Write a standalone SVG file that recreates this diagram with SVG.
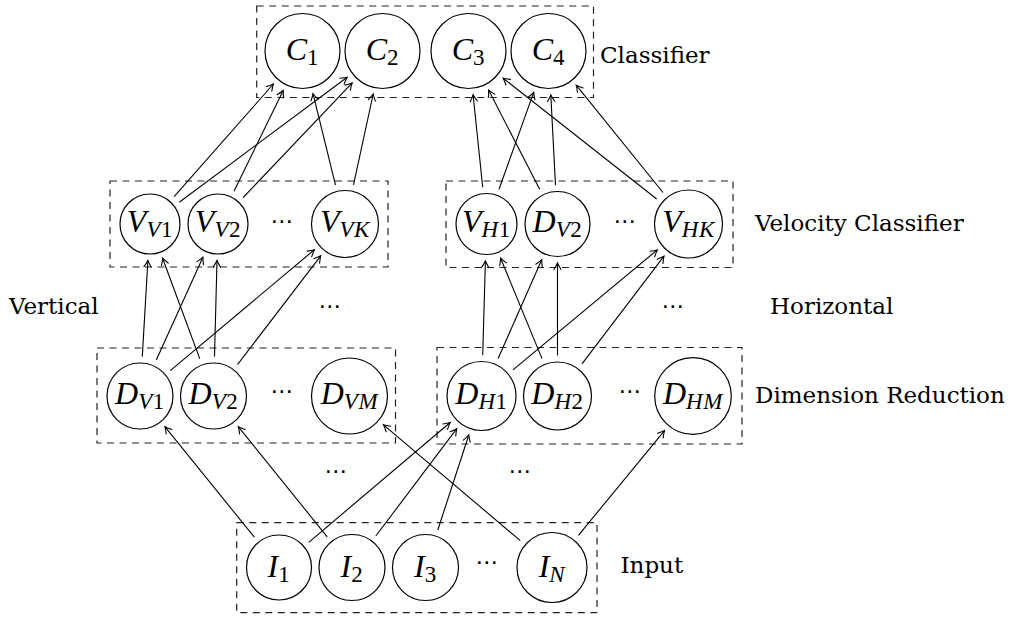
<svg xmlns="http://www.w3.org/2000/svg" width="1015" height="617" viewBox="0 0 1015 617">
<style>
.bg{fill:#fff}
.box{fill:none;stroke:#222;stroke-width:1.2;stroke-dasharray:7 5.5}
.node circle{fill:#fff;stroke:#000;stroke-width:1.2}
#connectors line{stroke:#000;stroke-width:1.1;marker-end:url(#arr)}
.lbl{font-family:"DejaVu Serif",serif;font-size:23px;fill:#000}
.m{font-family:"Liberation Serif",serif;font-style:italic;font-size:32px;fill:#000;text-anchor:middle}
.s{font-size:23px;letter-spacing:0.6px}
.r{font-style:normal}
.dots{font-family:"DejaVu Sans",sans-serif;font-size:23px;text-anchor:middle;fill:#000}
</style>
<defs>
<marker id="arr" markerUnits="userSpaceOnUse" markerWidth="12" markerHeight="12" viewBox="-8 -6 10 12" refX="0" refY="0" orient="auto">
<path d="M-6.5,-3.6 Q-2.2,-0.9 0,0 Q-2.2,0.9 -6.5,3.6" fill="none" stroke="#000" stroke-width="1.1" stroke-linecap="round"/>
</marker>
</defs>
<rect class="bg" x="0" y="0" width="1015" height="617"/>

<g id="groups">
<rect id="box-classifier" class="box" x="256.7" y="6" width="336.8" height="91.5"/>
<rect id="box-vel-v" class="box" x="110" y="181" width="278" height="86"/>
<rect id="box-vel-h" class="box" x="446" y="181" width="287" height="86.5"/>
<rect id="box-dim-v" class="box" x="97" y="348" width="298.5" height="95"/>
<rect id="box-dim-h" class="box" x="437" y="347.5" width="305" height="96.5"/>
<rect id="box-input" class="box" x="236.7" y="522.7" width="360.3" height="90"/>
</g>

<g id="connectors">
<line x1="174.1" y1="196.6" x2="273.4" y2="84.0"/>
<line x1="179.3" y1="202.2" x2="347.2" y2="77.3"/>
<line x1="234.0" y1="191.2" x2="283.2" y2="90.5"/>
<line x1="243.2" y1="197.5" x2="352.2" y2="82.9"/>
<line x1="335.5" y1="185.1" x2="313.0" y2="93.7"/>
<line x1="353.5" y1="184.9" x2="373.2" y2="94.0"/>
<line x1="482.7" y1="187.2" x2="473.1" y2="94.8"/>
<line x1="499.0" y1="189.2" x2="533.7" y2="92.4"/>
<line x1="539.7" y1="189.3" x2="488.6" y2="90.1"/>
<line x1="555.5" y1="185.1" x2="550.8" y2="94.9"/>
<line x1="656.7" y1="199.0" x2="503.1" y2="78.2"/>
<line x1="663.0" y1="192.5" x2="576.2" y2="85.2"/>
<line x1="142.3" y1="356.6" x2="147.9" y2="260.4"/>
<line x1="156.3" y1="360.0" x2="202.9" y2="257.2"/>
<line x1="170.3" y1="370.6" x2="314.4" y2="249.7"/>
<line x1="199.8" y1="358.9" x2="162.6" y2="258.2"/>
<line x1="214.5" y1="356.5" x2="217.0" y2="260.5"/>
<line x1="237.5" y1="364.6" x2="320.7" y2="255.8"/>
<line x1="482.7" y1="355.0" x2="485.4" y2="261.0"/>
<line x1="498.1" y1="358.5" x2="541.7" y2="259.7"/>
<line x1="513.0" y1="369.8" x2="657.3" y2="249.9"/>
<line x1="542.0" y1="358.6" x2="500.6" y2="258.2"/>
<line x1="557.5" y1="355.5" x2="557.5" y2="263.0"/>
<line x1="582.0" y1="363.8" x2="664.0" y2="256.2"/>
<line x1="254.4" y1="537.2" x2="164.9" y2="426.7"/>
<line x1="308.8" y1="542.3" x2="450.2" y2="422.5"/>
<line x1="327.2" y1="536.8" x2="238.3" y2="426.7"/>
<line x1="375.8" y1="536.0" x2="456.8" y2="428.7"/>
<line x1="437.8" y1="530.0" x2="468.8" y2="435.0"/>
<line x1="520.3" y1="540.7" x2="383.5" y2="424.8"/>
<line x1="578.4" y1="535.4" x2="664.5" y2="430.6"/>
</g>

<g id="C1" class="node"><circle cx="302.5" cy="51" r="37.5"/><text class="m" x="302.5" y="60">C<tspan class="s r" dy="5">1</tspan></text></g>
<g id="C2" class="node"><circle cx="382.5" cy="51" r="37.5"/><text class="m" x="382.5" y="60">C<tspan class="s r" dy="5">2</tspan></text></g>
<g id="C3" class="node"><circle cx="468.5" cy="51" r="37.5"/><text class="m" x="468.5" y="60">C<tspan class="s r" dy="5">3</tspan></text></g>
<g id="C4" class="node"><circle cx="548.5" cy="51" r="37.5"/><text class="m" x="548.5" y="60">C<tspan class="s r" dy="5">4</tspan></text></g>

<g id="VV1" class="node"><circle cx="150" cy="224" r="30"/><text class="m" x="150" y="232">V<tspan class="s" dy="5">V</tspan><tspan class="s r">1</tspan></text></g>
<g id="VV2" class="node"><circle cx="218" cy="224" r="30"/><text class="m" x="218" y="232">V<tspan class="s" dy="5">V</tspan><tspan class="s r">2</tspan></text></g>
<g id="VVK" class="node"><circle cx="345" cy="224" r="33.5"/><text class="m" x="345" y="232">V<tspan class="s" dy="5">VK</tspan></text></g>
<g id="VH1" class="node"><circle cx="486.5" cy="224" r="30.5"/><text class="m" x="486.5" y="232">V<tspan class="s" dy="5">H</tspan><tspan class="s r">1</tspan></text></g>
<g id="DV2b" class="node"><circle cx="557.5" cy="224" r="32.5"/><text class="m" x="557.5" y="232">D<tspan class="s" dy="5">V</tspan><tspan class="s r">2</tspan></text></g>
<g id="VHK" class="node"><circle cx="688.5" cy="224" r="34"/><text class="m" x="688.5" y="232">V<tspan class="s" dy="5">HK</tspan></text></g>

<g id="DV1" class="node"><circle cx="140" cy="396" r="33"/><text class="m" x="140" y="404">D<tspan class="s" dy="5">V</tspan><tspan class="s r">1</tspan></text></g>
<g id="DV2" class="node"><circle cx="213.5" cy="396" r="33"/><text class="m" x="213.5" y="404">D<tspan class="s" dy="5">V</tspan><tspan class="s r">2</tspan></text></g>
<g id="DVM" class="node"><circle cx="349.5" cy="396" r="38"/><text class="m" x="349.5" y="404">D<tspan class="s" dy="5">VM</tspan></text></g>
<g id="DH1" class="node"><circle cx="481.5" cy="396" r="34.5"/><text class="m" x="481.5" y="404">D<tspan class="s" dy="5">H</tspan><tspan class="s r">1</tspan></text></g>
<g id="DH2" class="node"><circle cx="557.5" cy="396" r="34"/><text class="m" x="557.5" y="404">D<tspan class="s" dy="5">H</tspan><tspan class="s r">2</tspan></text></g>
<g id="DHM" class="node"><circle cx="693" cy="396" r="38.3"/><text class="m" x="693" y="404">D<tspan class="s" dy="5">HM</tspan></text></g>

<g id="I1" class="node"><circle cx="279" cy="567.5" r="32.5"/><text class="m" x="279" y="577">I<tspan class="s r" dy="5">1</tspan></text></g>
<g id="I2" class="node"><circle cx="352" cy="567.5" r="33"/><text class="m" x="352" y="577">I<tspan class="s r" dy="5">2</tspan></text></g>
<g id="I3" class="node"><circle cx="425.5" cy="567.5" r="33"/><text class="m" x="425.5" y="577">I<tspan class="s r" dy="5">3</tspan></text></g>
<g id="IN" class="node"><circle cx="552" cy="567.5" r="35"/><text class="m" x="552" y="577">I<tspan class="s" dy="5">N</tspan></text></g>

<g id="ellipses">
<text class="dots" x="282" y="229">⋯</text>
<text class="dots" x="625" y="229">⋯</text>
<text class="dots" x="282" y="399">⋯</text>
<text class="dots" x="630" y="399">⋯</text>
<text class="dots" x="330" y="314">⋯</text>
<text class="dots" x="673" y="314">⋯</text>
<text class="dots" x="336" y="479">⋯</text>
<text class="dots" x="520" y="479">⋯</text>
<text class="dots" x="487" y="570">⋯</text>
</g>

<g id="labels">
<text class="lbl" x="600" y="63">Classifier</text>
<text class="lbl" x="755" y="230.5">Velocity Classifier</text>
<text class="lbl" x="9" y="314">Vertical</text>
<text class="lbl" x="770" y="314">Horizontal</text>
<text class="lbl" x="755" y="403">Dimension Reduction</text>
<text class="lbl" x="620.5" y="572.7">Input</text>
</g>
</svg>
